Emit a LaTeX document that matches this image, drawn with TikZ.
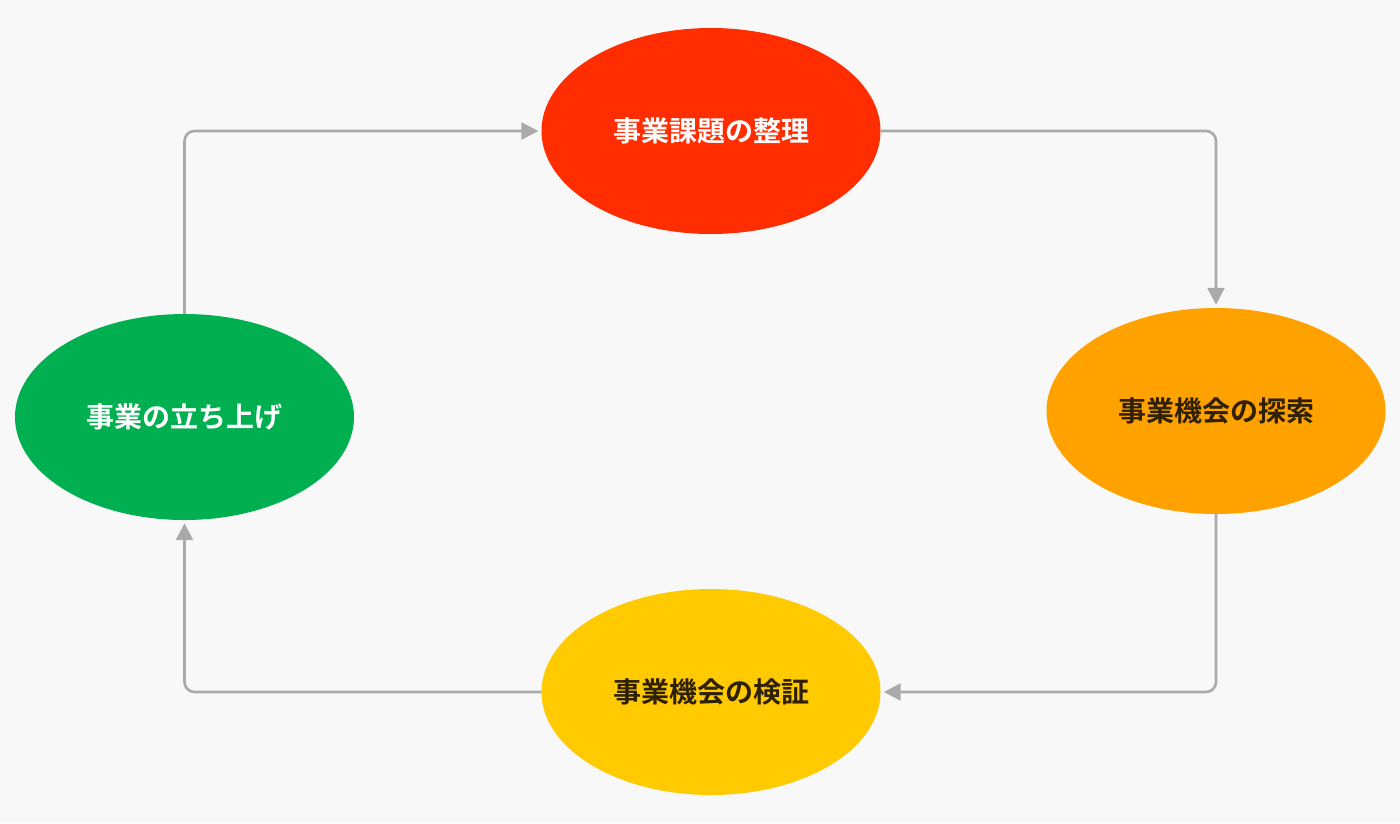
\documentclass[tikz,border=0pt]{standalone}
\usepackage{fontspec}
\newfontfamily\jpfont{Noto Sans CJK JP}[BoldFont={Noto Sans CJK JP Bold}]
\usetikzlibrary{shapes.geometric,arrows.meta}
\definecolor{bgc}{HTML}{F8F8F8}
\definecolor{linec}{HTML}{AAAAAA}
\definecolor{redc}{HTML}{FF2D00}
\definecolor{orangec}{HTML}{FFA200}
\definecolor{yellowc}{HTML}{FFCA00}
\definecolor{greenc}{HTML}{00AF50}
\definecolor{darktext}{HTML}{2E2000}
\begin{document}
\begin{tikzpicture}[x=1pt,y=-1pt,
  blob/.style={ellipse,minimum width=339pt,minimum height=206pt,inner sep=0pt,
    font=\jpfont\bfseries\fontsize{28}{32}\selectfont},
  conn/.style={draw=linec,line width=2.6pt,rounded corners=10pt,
    -{Triangle[length=17pt,width=17pt]},shorten >=3pt}]
\fill[bgc] (0,0) rectangle (1400,823);
\useasboundingbox (0,0) rectangle (1400,823);
\node[blob,fill=redc,text=white] (red) at (711,131) {事業課題の整理};
\node[blob,fill=orangec,text=darktext] (orange) at (1216,411) {事業機会の探索};
\node[blob,fill=yellowc,text=darktext] (yellow) at (711,692) {事業機会の検証};
\node[blob,fill=greenc,text=white] (green) at (184.5,417) {事業の立ち上げ};
\draw[conn] (green.north) |- (red.west);
\draw[conn] (red.east) -| (orange.north);
\draw[conn] (orange.south) |- (yellow.east);
\draw[conn] (yellow.west) -| (green.south);
\end{tikzpicture}
\end{document}
